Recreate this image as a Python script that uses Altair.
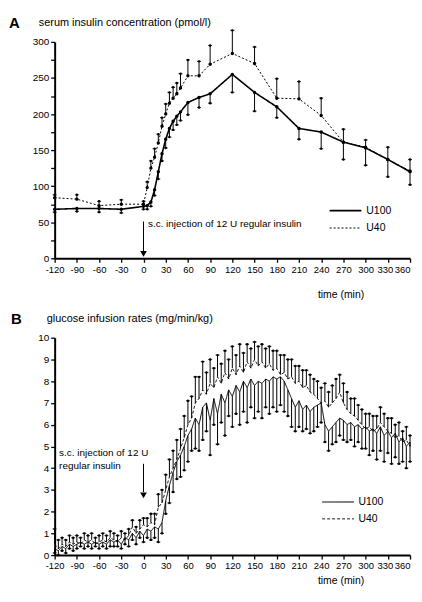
import altair as alt
import pandas as pd

FONT = "Liberation Sans"
SERIES = ["U100", "U40"]

# ---------------- Panel A: serum insulin (pmol/l) ----------------
a_time = [-120, -90, -60, -30, 0, 5, 10, 15, 20, 25, 30, 35, 40, 45, 50, 60, 75, 90,
          120, 150, 180, 210, 240, 270, 300, 330, 360]
a_u100 = [68, 69, 69, 68, 72, 73, 78, 95, 120, 145, 165, 180, 190, 197, 203, 216, 223, 228,
          255, 230, 210, 180, 175, 161, 153, 137, 120]
a_u100_sem = [4, 4, 5, 5, 4, 5, 6, 8, 10, 10, 12, 12, 12, 12, 12, 17, 14, 13,
              25, 26, 15, 15, 23, 24, 24, 24, 18]
a_u40 = [84, 82, 73, 75, 75, 98, 125, 140, 160, 183, 200, 215, 222, 228, 236, 253, 253, 269,
         284, 270, 222, 221, 198, 161, 154, 137, 121]
a_u40_sem = [4, 6, 6, 6, 4, 8, 10, 12, 12, 12, 14, 15, 15, 15, 20, 22, 20, 26,
             32, 23, 27, 24, 24, 18, 10, 17, 16]

# ---------------- Panel B: glucose infusion rates (mg/min/kg) ----------------
b_time = list(range(-120, 365, 5))
b_u100 = [0.3, 0.2, 0.4, 0.3, 0.5, 0.4, 0.5, 0.6, 0.5, 0.6, 0.5, 0.6,
          0.5, 0.6, 0.5, 0.7, 0.6, 0.7, 0.5, 0.8, 0.7, 1.0, 0.8, 1.1,
          0.9, 1.2, 1.1, 1.3, 1.2, 1.5, 2.5, 3.2, 3.8, 4.3, 4.6, 5.0,
          5.5, 5.8, 6.3, 6.0, 6.8, 7.0, 6.2, 7.2, 6.5, 7.4, 7.0, 7.6,
          7.3, 7.8, 7.5, 8.0, 7.7, 8.1, 7.8, 8.0, 7.9, 8.1, 8.0, 8.2,
          8.1, 8.2, 8.0, 7.6, 7.2, 6.8, 7.1, 6.7, 6.9, 6.6, 6.8, 6.9,
          7.0, 6.0, 5.7, 5.9, 6.1, 6.3, 6.2, 6.0, 6.1, 5.9, 6.0, 5.8,
          5.9, 5.7, 5.8, 5.6, 5.9, 5.5, 5.7, 5.4, 5.6, 5.2, 5.4, 5.0,
          5.2]
b_u100_sem = [0.2, 0.2, 0.2, 0.2, 0.2, 0.2, 0.2, 0.2, 0.2, 0.2, 0.2, 0.2,
              0.2, 0.2, 0.2, 0.3, 0.2, 0.3, 0.2, 0.3, 0.3, 0.3, 0.3, 0.3,
              0.3, 0.4, 0.4, 0.5, 0.6, 0.5, 0.6, 0.8, 0.9, 0.8, 1.0, 1.1,
              1.2, 1.0, 1.4, 1.2, 1.5, 1.3, 1.6, 1.2, 1.4, 1.3, 1.5, 1.2,
              1.4, 1.3, 1.5, 1.4, 1.6, 1.3, 1.5, 1.4, 1.6, 1.3, 1.5, 1.4,
              1.5, 1.3, 1.4, 1.2, 1.3, 1.1, 1.2, 1.0, 1.1, 1.0, 1.1, 1.0,
              0.9, 0.8, 0.9, 0.8, 0.9, 0.8, 0.9, 0.8, 0.8, 0.9, 0.8, 0.9,
              1.0, 1.1, 1.0, 1.2, 1.1, 1.2, 1.0, 1.2, 1.1, 1.0, 1.1, 1.0,
              0.9]
b_u40 = [0.5, 0.3, 0.5, 0.4, 0.6, 0.5, 0.6, 0.5, 0.7, 0.6, 0.7, 0.5,
         0.6, 0.7, 0.6, 0.8, 0.7, 0.6, 0.8, 0.7, 0.9, 1.3, 1.0, 1.2,
         1.4, 1.3, 1.5, 1.4, 2.2, 2.4, 3.0, 3.6, 4.0, 4.4, 4.9, 5.4,
         6.0, 6.3, 7.0, 7.2, 7.6, 7.4, 7.9, 7.7, 8.2, 7.9, 8.4, 8.1,
         8.6, 8.3, 8.7, 8.4, 8.9, 8.6, 9.0, 8.7, 8.9, 8.6, 8.8, 8.5,
         8.6, 8.3, 8.4, 8.1, 8.2, 7.9, 8.0, 7.7, 7.8, 7.5, 7.4, 7.2,
         7.0, 7.1, 6.8, 7.0, 7.2, 7.5, 7.0, 6.7, 6.5, 6.4, 6.2, 6.0,
         5.8, 5.9, 5.7, 5.8, 6.1, 5.9, 5.7, 5.6, 5.4, 5.5, 5.2, 5.3,
         5.0]
b_u40_sem = [0.7, 0.4, 0.3, 0.3, 0.3, 0.3, 0.3, 0.3, 0.3, 0.3, 0.3, 0.3,
             0.3, 0.3, 0.3, 0.3, 0.3, 0.3, 0.3, 0.3, 0.3, 0.3, 0.3, 0.4,
             0.3, 0.4, 0.4, 0.5, 0.6, 0.6, 0.7, 0.8, 0.8, 0.9, 0.9, 1.0,
             1.1, 1.0, 1.2, 1.0, 1.3, 1.0, 1.1, 0.9, 1.0, 0.9, 1.0, 0.9,
             1.0, 0.9, 1.0, 0.9, 0.8, 0.9, 0.8, 0.9, 0.8, 0.9, 0.8, 0.9,
             0.8, 0.9, 0.8, 0.9, 0.8, 0.8, 0.7, 0.8, 0.7, 0.8, 0.7, 0.8,
             0.7, 0.8, 0.7, 0.8, 0.9, 0.8, 0.9, 0.8, 0.7, 0.8, 0.7, 0.7,
             0.7, 0.6, 0.7, 0.6, 0.7, 0.6, 0.6, 0.7, 0.6, 0.6, 0.5, 0.6,
             0.5]

x_ticks = [-120, -90, -60, -30, 0, 30, 60, 90, 120, 150, 180, 210, 240, 270, 300, 330, 360]
a_yticks = [0, 25, 50, 75, 100, 125, 150, 175, 200, 225, 250, 275, 300]
b_yticks = [0, 1, 2, 3, 4, 5, 6, 7, 8, 9, 10]


def long_df(t, u100, s100, u40, s40):
    rows = []
    for tt, v, s in zip(t, u100, s100):
        rows.append(dict(time=tt, value=v, series="U100", lo=v - s, hi=v, end=v - s))
    for tt, v, s in zip(t, u40, s40):
        rows.append(dict(time=tt, value=v, series="U40", lo=v, hi=v + s, end=v + s))
    return pd.DataFrame(rows)


def panel(df, ymax, yticks, label_expr, letter, title, title_dx, letter_dx,
          legend_x, legend_y, time_title_y, notes, arrow, arrow_head,
          height, line_widths, show_points, dash):
    W = 358
    xs = alt.Scale(domain=[-120, 360], nice=False, zero=False)
    ys = alt.Scale(domain=[0, ymax], nice=False)
    x_axis = alt.Axis(values=x_ticks, title="time (min)", titleX=288,
                      titleY=time_title_y, titleAlign="center",
                      titleBaseline="middle", titleFontSize=10.5,
                      labelExpr="'' + datum.value", labelOverlap=False,
                      labelFlush=False, labelFontSize=9.5,
                      labelAlign={"condition": {"test": "datum.value == 360", "value": "right"},
                                  "value": "center"},
                      labelOffset={"condition": {"test": "datum.value == 330", "value": -3},
                                   "value": 0},
                      domain=True, ticks=True)
    y_axis = alt.Axis(values=yticks, title=None, labelExpr=label_expr,
                      labelOverlap=False, labelFlush=False, domain=True, ticks=True)

    def X():
        return alt.X("time:Q", scale=xs, axis=x_axis)

    def Y(field):
        return alt.Y(field, scale=ys, axis=y_axis)

    base = alt.Chart(df)
    lines = base.mark_line(color="black").encode(
        x=X(), y=Y("value:Q"),
        strokeDash=alt.StrokeDash(
            "series:N",
            scale=alt.Scale(domain=SERIES, range=[[1, 0], dash]),
            legend=alt.Legend(orient="none", legendX=legend_x, legendY=legend_y,
                              title=None, symbolType="M-2,0H2", symbolSize=256,
                              symbolStrokeWidth=1.3, symbolStrokeColor="black",
                              symbolFillColor="transparent", labelOffset=12,
                              labelFont=FONT, labelFontSize=10.5, labelColor="black",
                              padding=0, rowPadding=3)),
        strokeWidth=alt.StrokeWidth(
            "series:N", scale=alt.Scale(domain=SERIES, range=line_widths), legend=None),
        detail="series:N",
    )
    bars = base.mark_rule(color="black", strokeWidth=1).encode(
        x=X(), y=Y("lo:Q"), y2="hi:Q")
    caps = base.mark_tick(color="black", thickness=1.2, size=4, orient="horizontal").encode(
        x=X(), y=Y("end:Q"))
    dots = base.mark_circle(color="black", size=6, opacity=1).encode(
        x=X(), y=Y("end:Q"))
    layers = [lines, bars, caps, dots]
    if show_points:
        layers.append(base.mark_circle(color="black", size=12, opacity=1).encode(
            x=X(), y=Y("value:Q")))

    note_layer = alt.Chart(pd.DataFrame(notes)).mark_text(
        align="left", baseline="middle", font=FONT, fontSize=10, color="black").encode(
        x=X(), y=Y("value:Q"), text="label:N")
    arrow_line = alt.Chart(pd.DataFrame(arrow)).mark_rule(color="black", strokeWidth=1).encode(
        x=X(), y=Y("y1:Q"), y2="y2:Q")
    arrow_tip = alt.Chart(pd.DataFrame(arrow_head)).mark_point(
        shape="triangle-down", filled=True, color="black", size=45, opacity=1).encode(
        x=X(), y=Y("value:Q"))

    head = pd.DataFrame({"letter": [letter], "title": [title]})
    letter_txt = alt.Chart(head).mark_text(
        align="left", baseline="middle", font=FONT, fontSize=15, fontWeight="bold",
        color="black").encode(x=alt.value(letter_dx), y=alt.value(-19), text="letter:N")
    title_txt = alt.Chart(head).mark_text(
        align="left", baseline="middle", font=FONT, fontSize=11, color="black").encode(
        x=alt.value(title_dx), y=alt.value(-19), text="title:N")

    return alt.layer(*layers, note_layer, arrow_line, arrow_tip, letter_txt, title_txt).properties(
        width=W, height=height)


df_a = long_df(a_time, a_u100, a_u100_sem, a_u40, a_u40_sem)
df_b = long_df(b_time, b_u100, b_u100_sem, b_u40, b_u40_sem)

chart_a = panel(
    df_a, 300, a_yticks, "datum.value % 50 == 0 ? '' + datum.value : ''",
    "A", "serum insulin concentration (pmol/l)", -16, -46,
    284, 161, 36,
    {"time": [6], "value": [47], "label": ["s.c. injection of 12 U regular insulin"]},
    {"time": [0], "y1": [51], "y2": [8]},
    {"time": [0], "value": [6]},
    218, [1.6, 1.0], True, [2, 2])

chart_b = panel(
    df_b, 10, b_yticks, "'' + datum.value",
    "B", "glucose infusion rates (mg/min/kg)", -8, -44,
    277, 157, 26,
    {"time": [-114, -114], "value": [4.68, 4.12],
     "label": ["s.c. injection of 12 U", "regular insulin"]},
    {"time": [0], "y1": [4.2], "y2": [2.9]},
    {"time": [0], "value": [2.75]},
    219, [1.0, 0.9], False, [3, 2])

chart = alt.vconcat(chart_a, chart_b, spacing=12).resolve_scale(
    strokeDash="independent", strokeWidth="independent", x="independent", y="independent"
).resolve_legend(strokeDash="independent").properties(
    padding={"left": 1, "top": 6, "right": 0, "bottom": 0}
).configure_view(stroke=None).configure_axis(
    domainColor="black", domainWidth=2, tickColor="black", tickWidth=1.3, tickSize=4,
    labelColor="black", labelFont=FONT, labelFontSize=10, labelPadding=2,
    titleFont=FONT, titleColor="black", titleFontWeight="normal", grid=False)

chart.save("out.html", embed_options={"renderer": "svg", "actions": False})
